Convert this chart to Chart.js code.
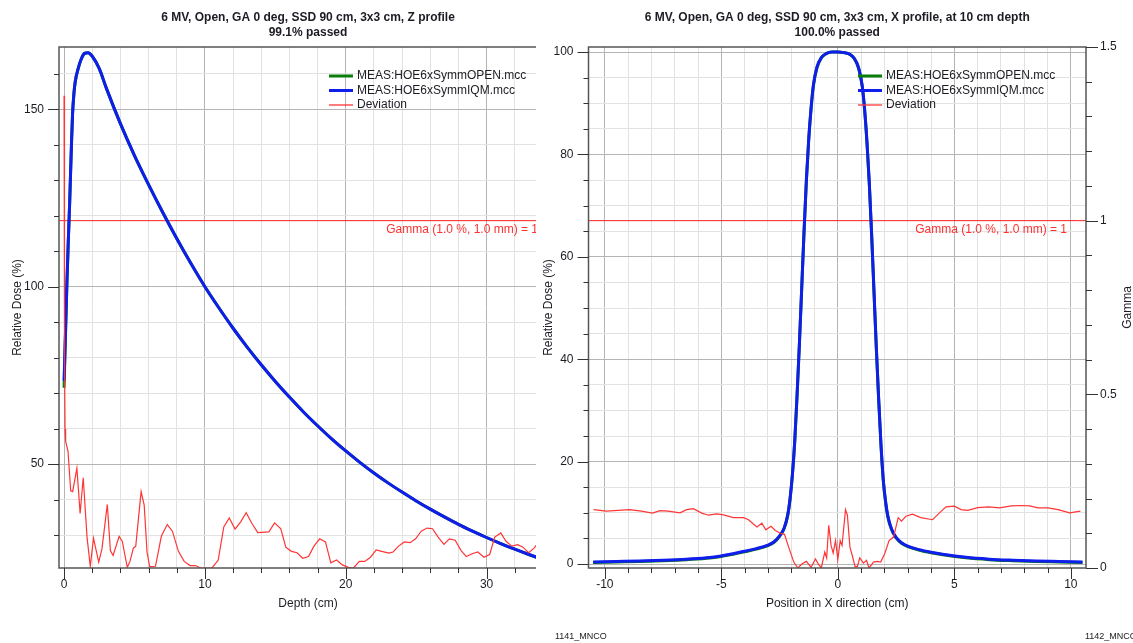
<!DOCTYPE html>
<html>
<head>
<meta charset="utf-8">
<script src="https://cdn.jsdelivr.net/npm/chart.js@4.4.1/dist/chart.umd.min.js"></script>
<style>
  body { margin: 0; background: #fff; width: 1133px; height: 643px; overflow: hidden; position: relative; font-family: 'Liberation Sans', Arial, sans-serif; }
  #left-wrap { position: absolute; left: 0; top: 0; width: 536px; height: 643px; overflow: hidden; }
  #right-wrap { position: absolute; left: 536px; top: 0; width: 597px; height: 643px; }
  .tag { position: absolute; top: 631px; font-size: 9px; color: #222; white-space: nowrap; }
</style>
</head>
<body>
<div id="left-wrap"><canvas id="depth-chart" width="600" height="643"></canvas></div>
<div id="right-wrap"><canvas id="profile-chart" width="597" height="643"></canvas></div>
<div class="tag" style="left:555px">1141_MNCO</div>
<div class="tag" style="left:1085px">1142_MNCO</div>
<script>
// --- Data ---
const LEGEND_OPEN = 'MEAS:HOE6xSymmOPEN.mcc';
const LEGEND_IQM = 'MEAS:HOE6xSymmIQM.mcc';
const LEGEND_DEV = 'Deviation';
const GAMMA_LIMIT = 1;
const GAMMA_TEXT = 'Gamma (1.0 %, 1.0 mm) = 1';

// Z profile (depth dose)
const depthCm = [0, 0.1, 0.2, 0.3, 0.4, 0.5, 0.6, 0.7, 0.8, 1.0, 1.2, 1.45, 1.7, 2.0, 2.5, 3, 4, 5, 6, 7, 8, 9, 10,
    11, 12, 13, 14, 15, 16, 17, 18, 19, 20, 21, 22, 23, 24, 25, 26, 27, 28, 29, 30, 31, 32, 33, 34, 35];
const depthDoseIQM = [73.5, 87, 101, 113, 124, 137, 148.5, 154.5, 158, 161.5, 164, 165.8, 166, 165, 161.5, 156, 146, 137, 128.8, 121, 113.6, 106.6, 100,
    94, 88.3, 83, 78, 73.3, 68.9, 64.7, 60.8, 57.1, 53.7, 50.5, 47.5, 44.7, 42.1, 39.6, 37.3, 35.1, 33, 31.1, 29.3, 27.6, 26, 24.5, 23.1, 21.8];
const depthDoseOPEN = [71.5, 86.5, 100.5, 112.8, 124, 137, 148.5, 154.5, 158, 161.5, 164, 165.8, 166, 165, 161.5, 156, 146, 137, 128.8, 121, 113.6, 106.6, 100,
    94, 88.3, 83, 78, 73.3, 68.9, 64.7, 60.8, 57.1, 53.7, 50.5, 47.5, 44.7, 42.1, 39.6, 37.3, 35.1, 33, 31.1, 29.3, 27.6, 26, 24.5, 23.1, 21.8];
const depthDevCm = [0, 0.03, 0.07, 0.11, 0.28, 0.47, 0.61, 0.91, 1.14, 1.36, 1.63, 1.86, 2.09, 2.46, 2.69, 3.07, 3.29, 3.48, 3.91, 4.13,
    4.49, 4.68, 4.92, 5.09, 5.47, 5.69, 5.89, 6.08, 6.49, 6.91, 7.33, 7.69, 8.12, 8.53, 8.94, 9.32, 9.7, 10.5, 10.94, 11.34,
    11.73, 12.14, 12.54, 12.93, 13.34, 13.75, 14.54, 14.95, 15.39, 15.74, 16.15, 16.54, 16.94, 17.36, 17.74, 18.15, 18.56, 18.94, 19.35, 19.76,
    20.19, 20.55, 20.96, 21.35, 21.76, 22.16, 22.55, 23.08, 23.36, 23.75, 24.16, 24.57, 24.96, 25.36, 25.77, 26.16, 26.56, 26.97, 27.36, 27.77,
    28.18, 28.56, 28.97, 29.38, 29.81, 30.22, 30.58, 31.01, 31.38, 31.79, 32.21, 32.58, 32.99, 33.37, 33.85, 34.2];
const depthDevGamma = [1.36, 0.6, 0.4, 0.365, 0.336, 0.222, 0.22, 0.287, 0.157, 0.26, 0.089, 0.005, 0.086, 0.017, 0.055, 0.183, 0.05, 0.036, 0.091, 0.077,
    0.002, 0.019, 0.057, 0.063, 0.22, 0.181, 0.046, 0.004, 0.005, 0.092, 0.125, 0.106, 0.048, 0.019, 0.007, 0.007, 0, 0, 0.022, 0.118,
    0.144, 0.112, 0.133, 0.159, 0.128, 0.102, 0.104, 0.13, 0.113, 0.06, 0.048, 0.044, 0.028, 0.033, 0.063, 0.084, 0.075, 0.015, 0.023, 0.009,
    0.002, 0, 0.019, 0.019, 0.031, 0.052, 0.048, 0.043, 0.046, 0.063, 0.075, 0.073, 0.084, 0.106, 0.115, 0.113, 0.089, 0.068, 0.084, 0.08,
    0.051, 0.033, 0.041, 0.046, 0.031, 0.039, 0.089, 0.101, 0.077, 0.063, 0.067, 0.06, 0.044, 0.057, 0.082, 0.08];

// X profile at 10 cm depth
const positionCm = [-10.5, -9.5, -8.5, -7.5, -6.5, -5.5, -4.5, -4.0, -3.5, -3.0, -2.75, -2.5, -2.3, -2.15, -2.05, -1.95, -1.85, -1.75, -1.65, -1.55,
    -1.45, -1.35, -1.25, -1.15, -1.05, -0.9, -0.7, -0.5, -0.25, 0, 0.25, 0.5, 0.7, 0.9, 1.05, 1.15, 1.25, 1.35, 1.45, 1.55,
    1.65, 1.75, 1.85, 1.95, 2.05, 2.15, 2.3, 2.5, 2.75, 3.0, 3.5, 4.0, 4.5, 5.5, 6.5, 7.5, 8.5, 9.5, 10.5];
const profileDoseIQM = [0.4, 0.5, 0.6, 0.75, 0.95, 1.25, 2.0, 2.5, 3.0, 3.7, 4.3, 5.5, 7.1, 9.6, 12.8, 17.5, 24, 33, 43, 54,
    65, 75, 83, 89, 93.5, 97, 99, 99.7, 100, 100, 99.9, 99.6, 98.8, 96.8, 93.3, 88.8, 82.5, 74.5, 64.5, 53.5,
    42.5, 32.5, 23.5, 16.5, 12.2, 9.3, 6.9, 5.2, 4.1, 3.5, 2.8, 2.3, 1.9, 1.3, 0.95, 0.75, 0.6, 0.5, 0.4];
const profileDoseOPEN = [0.3, 0.4, 0.5, 0.65, 0.85, 1.15, 1.9, 2.4, 2.9, 3.6, 4.2, 5.4, 7.0, 9.5, 12.6, 17.3, 23.8, 32.8, 42.8, 53.8,
    64.8, 74.8, 82.8, 88.8, 93.4, 96.9, 98.9, 99.7, 100, 100, 99.9, 99.6, 98.8, 96.7, 93.2, 88.6, 82.3, 74.3, 64.3, 53.3,
    42.3, 32.3, 23.3, 16.3, 12.0, 9.1, 6.8, 5.1, 4.0, 3.4, 2.7, 2.2, 1.8, 1.2, 0.85, 0.65, 0.5, 0.4, 0.3];
const profileDevCm = [-10.48, -9.94, -8.93, -8.43, -7.95, -7.64, -7.28, -6.77, -6.49, -6.2, -5.84, -5.55, -5.2, -4.91, -4.48, -4.05, -3.83, -3.65, -3.47, -3.26,
    -3.09, -2.87, -2.68, -2.47, -2.29, -2.11, -1.89, -1.72, -1.53, -1.35, -1.15, -0.96, -0.84, -0.71, -0.56, -0.48, -0.39, -0.29, -0.2, -0.1,
    0.0, 0.1, 0.18, 0.33, 0.41, 0.52, 0.62, 0.74, 0.84, 0.94, 1.1, 1.23, 1.34, 1.53, 1.7, 1.84, 2.01, 2.2, 2.39, 2.59,
    2.73, 2.92, 3.2, 3.56, 4.07, 4.35, 4.64, 5.0, 5.29, 5.58, 6.0, 6.47, 6.94, 7.44, 7.87, 8.23, 8.59, 9.02, 9.45, 9.95, 10.41];
const profileDevGamma = [0.168, 0.164, 0.168, 0.164, 0.158, 0.165, 0.164, 0.159, 0.168, 0.171, 0.158, 0.152, 0.156, 0.153, 0.145, 0.145, 0.139, 0.128, 0.118, 0.129,
    0.11, 0.12, 0.108, 0.1, 0.097, 0.06, 0.017, 0, 0.012, 0.019, 0.002, 0.026, 0.012, 0, 0.046, 0.029, 0.123, 0.065, 0.043, 0.079,
    0.024, 0.079, 0.065, 0.168, 0.152, 0.06, 0.036, 0.004, 0.004, 0.029, 0.014, 0.022, 0, 0.017, 0.019, 0.017, 0.041, 0.079, 0.089, 0.145,
    0.135, 0.149, 0.155, 0.145, 0.139, 0.158, 0.176, 0.178, 0.168, 0.166, 0.174, 0.176, 0.173, 0.179, 0.18, 0.179, 0.173, 0.173, 0.168, 0.159, 0.164];

// Axis ticks and labels
const depthTicks = [0, 2, 4, 6, 8, 10, 12, 14, 16, 18, 20, 22, 24, 26, 28, 30, 32, 34];
const depthLabels = [0, 10, 20, 30];
const depthDoseTicks = [30, 40, 50, 60, 70, 80, 90, 100, 110, 120, 130, 140, 150, 160];
const depthDoseLabels = [50, 100, 150];
const positionTicks = [-10, -9, -8, -7, -6, -5, -4, -3, -2, -1, 0, 1, 2, 3, 4, 5, 6, 7, 8, 9, 10];
const positionLabels = [-10, -5, 0, 5, 10];
const profileDoseTicks = [0, 5, 10, 15, 20, 25, 30, 35, 40, 45, 50, 55, 60, 65, 70, 75, 80, 85, 90, 95, 100];
const profileDoseLabels = [0, 20, 40, 60, 80, 100];
const gammaTicks = [0, 0.1, 0.2, 0.3, 0.4, 0.5, 0.6, 0.7, 0.8, 0.9, 1, 1.1, 1.2, 1.3, 1.4, 1.5];
const gammaLabels = [0, 0.5, 1, 1.5];

// --- Styles ---
const FONT = "'Liberation Sans', Arial, sans-serif";
const TEXT = '#1c1c24';
const GREEN = '#0a7d0a';
const BLUE = '#0f1ded';
const RED = '#ff3535';

Chart.defaults.font.family = FONT;
Chart.defaults.font.size = 12;
Chart.defaults.color = TEXT;

const toXY = (xs, ys) => xs.map((x, i) => ({ x: x, y: ys[i] }));

function drawScaleTicks(ctx, scale, side, majors, majorLen, minorLen) {
    scale.ticks.forEach(t => {
        const p = Math.round(scale.getPixelForValue(t.value)) + 0.5;
        const len = majors.includes(t.value) ? majorLen : minorLen;
        ctx.beginPath();
        if (side === 'bottom') {
            ctx.moveTo(p, scale.top); ctx.lineTo(p, scale.top + len);
        } else if (side === 'left') {
            ctx.moveTo(scale.right, p); ctx.lineTo(scale.right - len, p);
        } else {
            ctx.moveTo(scale.left, p); ctx.lineTo(scale.left + len, p);
        }
        ctx.stroke();
    });
}

// frame, minor/major ticks, titles, legend and gamma label
const chartDecor = {
    id: 'chartDecor',
    afterDraw(chart, args, opts) {
        const { ctx, chartArea: a, scales } = chart;
        ctx.save();
        ctx.strokeStyle = '#555';
        ctx.lineWidth = 1.5;
        ctx.strokeRect(a.left, a.top, a.right - a.left, a.bottom - a.top);

        ctx.lineWidth = 1;
        ctx.strokeStyle = '#333';
        drawScaleTicks(ctx, scales.x, 'bottom', opts.xMajors, 11, 5);
        drawScaleTicks(ctx, scales.y, 'left', opts.yMajors, 11, 5);
        drawScaleTicks(ctx, scales.yGamma, 'right', gammaLabels, 12, 6);

        const cx = (a.left + a.right) / 2;
        ctx.fillStyle = TEXT;
        ctx.textAlign = 'center';
        ctx.textBaseline = 'middle';
        ctx.font = 'bold 12px ' + FONT;
        ctx.fillText(opts.title[0], cx, 18);
        ctx.fillText(opts.title[1], cx, 33);

        // legend in the top right corner of the plot
        ctx.font = '12px ' + FONT;
        ctx.textAlign = 'left';
        const rows = [[LEGEND_OPEN, GREEN, 3], [LEGEND_IQM, BLUE, 3], [LEGEND_DEV, RED, 1.3]];
        rows.forEach((r, i) => {
            const y = a.top + 29 + i * 14.5;
            ctx.strokeStyle = r[1];
            ctx.lineWidth = r[2];
            ctx.beginPath();
            ctx.moveTo(a.right - 228, y);
            ctx.lineTo(a.right - 204, y);
            ctx.stroke();
            ctx.fillStyle = TEXT;
            ctx.fillText(r[0], a.right - 200, y);
        });

        const gy = scales.yGamma.getPixelForValue(GAMMA_LIMIT);
        ctx.fillStyle = '#ff3030';
        ctx.textAlign = 'right';
        ctx.fillText(GAMMA_TEXT, a.right - 19, gy + 9);

        // right axis title, reading bottom to top
        ctx.fillStyle = TEXT;
        ctx.textAlign = 'center';
        ctx.translate(scales.yGamma.right - 5, (a.top + a.bottom) / 2);
        ctx.rotate(-Math.PI / 2);
        ctx.fillText('Gamma', 0, 0);
        ctx.restore();
    }
};

function makeChart(canvasId, cfg) {
    const ctx = document.getElementById(canvasId).getContext('2d');
    const lineSet = (label, data, color, width, axis, order) => ({
        label: label, data: data, yAxisID: axis, borderColor: color, borderWidth: width,
        pointRadius: 0, fill: false, tension: 0, order: order
    });
    const datasets = [
        lineSet(LEGEND_DEV, toXY(cfg.devX, cfg.devY), RED, 1.2, 'yGamma', 0),
        Object.assign(lineSet(LEGEND_IQM, toXY(cfg.x, cfg.iqm), BLUE, 3, 'y', 1), { cubicInterpolationMode: 'monotone' }),
        Object.assign(lineSet(LEGEND_OPEN, toXY(cfg.x, cfg.open), GREEN, 3, 'y', 2), { cubicInterpolationMode: 'monotone' }),
        lineSet('Gamma limit', [{ x: cfg.xMin, y: GAMMA_LIMIT }, { x: cfg.xMax, y: GAMMA_LIMIT }], '#ff2020', 1, 'yGamma', 3)
    ];
    const gridColor = majors => c => (c.tick && majors.includes(c.tick.value)) ? '#b4b4b4' : '#e2e2e2';
    const setTicks = list => scale => { scale.ticks = list.map(v => ({ value: v })); };
    const labelOnly = majors => v => majors.includes(v) ? String(v) : '';

    return new Chart(ctx, {
        type: 'line',
        data: { datasets: datasets },
        options: {
            responsive: false,
            animation: false,
            devicePixelRatio: 1,
            layout: { padding: { top: 47, left: 0, right: 0, bottom: 0 } },
            plugins: {
                legend: { display: false },
                tooltip: { enabled: false },
                chartDecor: { title: cfg.title, xMajors: cfg.xLabels, yMajors: cfg.yLabels }
            },
            scales: {
                x: {
                    type: 'linear', min: cfg.xMin, max: cfg.xMax,
                    afterBuildTicks: setTicks(cfg.xTicks),
                    afterFit: s => { s.height = 75; },
                    border: { display: false },
                    grid: { color: gridColor(cfg.xLabels), drawTicks: false },
                    ticks: { callback: labelOnly(cfg.xLabels), padding: 9, autoSkip: false, maxRotation: 0 },
                    title: { display: true, text: cfg.xTitle, padding: { top: 0, bottom: 32 } }
                },
                y: {
                    type: 'linear', position: 'left', min: cfg.yMin, max: cfg.yMax,
                    afterBuildTicks: setTicks(cfg.yTicks),
                    afterFit: s => { s.width = cfg.yWidth; },
                    border: { display: false },
                    grid: { color: gridColor(cfg.yLabels), drawTicks: false },
                    ticks: { callback: labelOnly(cfg.yLabels), padding: 15, autoSkip: false },
                    title: { display: true, text: 'Relative Dose (%)', padding: { top: cfg.yTitlePad, bottom: 0 } }
                },
                yGamma: {
                    type: 'linear', position: 'right', min: 0, max: 1.5,
                    afterBuildTicks: setTicks(gammaTicks),
                    afterFit: s => { s.width = cfg.gammaWidth; },
                    border: { display: false },
                    grid: { drawOnChartArea: false, drawTicks: false },
                    ticks: { callback: labelOnly(gammaLabels), padding: 14, autoSkip: false }
                }
            }
        },
        plugins: [chartDecor]
    });
}

makeChart('depth-chart', {
    title: ['6 MV, Open, GA 0 deg, SSD 90 cm, 3x3 cm, Z profile', '99.1% passed'],
    x: depthCm, iqm: depthDoseIQM, open: depthDoseOPEN, devX: depthDevCm, devY: depthDevGamma,
    xMin: -0.36, xMax: 35.0, xTicks: depthTicks, xLabels: depthLabels, xTitle: 'Depth (cm)',
    yMin: 20.7, yMax: 167.6, yTicks: depthDoseTicks, yLabels: depthDoseLabels,
    yWidth: 59, yTitlePad: 10, gammaWidth: 43
});

makeChart('profile-chart', {
    title: ['6 MV, Open, GA 0 deg, SSD 90 cm, 3x3 cm, X profile, at 10 cm depth', '100.0% passed'],
    x: positionCm, iqm: profileDoseIQM, open: profileDoseOPEN, devX: profileDevCm, devY: profileDevGamma,
    xMin: -10.7, xMax: 10.65, xTicks: positionTicks, xLabels: positionLabels, xTitle: 'Position in X direction (cm)',
    yMin: -0.78, yMax: 101, yTicks: profileDoseTicks, yLabels: profileDoseLabels,
    yWidth: 52.5, yTitlePad: 5, gammaWidth: 47
});
</script>
</body>
</html>
